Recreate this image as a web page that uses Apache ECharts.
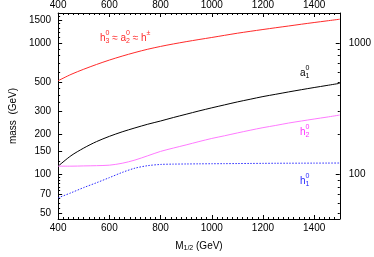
<!DOCTYPE html>
<html><head><meta charset="utf-8">
<script src="https://cdn.jsdelivr.net/npm/echarts@6/dist/echarts.min.js"></script>
<style>html,body{margin:0;padding:0;background:#fff}#c{width:374px;height:257px}</style>
</head><body><div id="c"></div>
<script>
// ---- data ----
var mHalf  = [400,450,500,550,600,650,700,750,800,850,900,950,1000,1050,1100,1150,1200,1250,1300,1350,1400,1450,1500];
var massH3 = [515,575,630,685,740,793,845,895,940,982,1022,1061,1100,1142,1185,1225,1265,1305,1345,1388,1430,1472,1515];
var massA1 = [115,138,158,177,194,210,225,240,254,270,286,303,320,337,355,372,390,406,423,440,457,474,492];
var massH2 = [115,115,115.5,116,117,121,128,138,149,158,167,177,187,196,206,216,226,235,245,254,263,272,282];
var massH1 = [66,72,79,86,94,103,111,116,118.5,119.2,119.5,119.8,120,120.2,120.4,120.6,120.8,121,121.1,121.2,121.3,121.4,121.5];
var xTicks = [400,600,800,1000,1200,1400];
var yLeftLabels = [50,70,100,150,200,300,500,1000,1500];
var yLeftMinor = [55,60,65,75,80,85,90,95,125,175,250,350,400,450,600,700,800,900,1100,1200,1300,1400,1600];
var yRightLabels = [100,1000];
var yRightMinor = [50,60,70,80,90,200,300,400,500,600,700,800,900];

var FONT = 'Liberation Sans, Arial, sans-serif';
function pairs(ys){ return mHalf.map(function(x,i){ return [x, ys[i]]; }); }
function plain(v){ return String(Math.round(v)); }

var chart = echarts.init(document.getElementById('c'), null, {renderer:'canvas'});
var ctx = document.createElement('canvas').getContext('2d');
function tw(t, size){ ctx.font = size + 'px ' + FONT; return ctx.measureText(t).width; }

function mathLabel(x, yc, segs, color){
  var els = []; var cx = x;
  segs.forEach(function(s){
    if (s.t) {
      els.push({type:'text', style:{text:s.t, x:cx, y:yc, fill:color, font:'10px '+FONT, verticalAlign:'middle', align:'left'}});
      cx += tw(s.t, 10);
    }
    var w = 0;
    if (s.sup) { els.push({type:'text', style:{text:s.sup, x:cx, y:yc-4.5, fill:color, font:'7px '+FONT, verticalAlign:'middle', align:'left'}}); w = Math.max(w, tw(s.sup,7)); }
    if (s.sub) { els.push({type:'text', style:{text:s.sub, x:cx, y:yc+3.5, fill:color, font:'7px '+FONT, verticalAlign:'middle', align:'left'}}); w = Math.max(w, tw(s.sub,7)); }
    cx += w;
  });
  return els;
}

var graphics = [];
graphics = graphics.concat(mathLabel(100, 38, [{t:'h', sup:'0', sub:'3'},{t:' \u2248 a', sup:'0', sub:'2'},{t:' \u2248 h', sup:'\u00b1'}], '#ff2a2a'));
graphics = graphics.concat(mathLabel(300, 73, [{t:'a', sup:'0', sub:'1'}], '#000000'));
graphics = graphics.concat(mathLabel(300, 132, [{t:'h', sup:'0', sub:'2'}], '#ff33ff'));
graphics = graphics.concat(mathLabel(300, 181, [{t:'h', sup:'0', sub:'1'}], '#2a2aff'));

var axisLineStyle = {show:true, lineStyle:{color:'#000', width:1}};
function xAxisDef(pos, showName){
  return {
    type:'value', position:pos, min:400, max:1500,
    axisLine: axisLineStyle,
    axisTick:{show:true, inside:true, length:4, customValues:xTicks, lineStyle:{color:'#000'}},
    minorTick:{show:true, splitNumber:10, length:2, lineStyle:{color:'#000'}},
    axisLabel:{show:true, customValues:xTicks, formatter:plain, color:'#000', fontSize:10, fontFamily:FONT, margin: pos==='top'?3:4},
    splitLine:{show:false},
    name: showName ? '{a|M}{s|1/2}{a| (GeV)}' : '',
    nameLocation:'middle', nameGap:21,
    nameTextStyle:{color:'#000', fontFamily:FONT, rich:{
      a:{fontSize:10, fontFamily:FONT, color:'#000', lineHeight:12, verticalAlign:'middle'},
      s:{fontSize:7, fontFamily:FONT, color:'#000', lineHeight:12, verticalAlign:'bottom', padding:[6,0,0,0]}
    }}
  };
}
function yAxisDef(pos, labels, ticks, tickLen, showLine, name){
  return {
    type:'log', logBase:10, position:pos, min:45.5, max:1690,
    axisLine: showLine ? axisLineStyle : {show:false},
    axisTick:{show:true, inside:true, length:tickLen, customValues:ticks, lineStyle:{color:'#000'}},
    axisLabel: labels ? {show:true, customValues:labels, formatter:plain, color:'#000', fontSize:10, fontFamily:FONT, margin: pos==='left'?7:9} : {show:false},
    splitLine:{show:false},
    name: name || '', nameLocation:'middle', nameGap:35,
    nameTextStyle:{color:'#000', fontSize:10, fontFamily:FONT}
  };
}

chart.setOption({
  animation:false,
  backgroundColor:'#fff',
  grid:{left:45, right:31, top:13, bottom:36, containLabel:false},
  xAxis:[xAxisDef('bottom', true), xAxisDef('top', false)],
  yAxis:[
    yAxisDef('left', yLeftLabels, yLeftLabels, 4, true, 'mass  (GeV)'),
    yAxisDef('left', null, yLeftMinor, 2, false),
    yAxisDef('right', yRightLabels, yRightLabels, 4, true),
    yAxisDef('right', null, yRightMinor, 2, false)
  ],
  series:[
    {type:'line', name:'h3', data:pairs(massH3), smooth:0.3, showSymbol:false, lineStyle:{color:'#ff2a2a', width:1}, xAxisIndex:0, yAxisIndex:0},
    {type:'line', name:'a1', data:pairs(massA1), smooth:0.3, showSymbol:false, lineStyle:{color:'#000', width:1}, xAxisIndex:0, yAxisIndex:0},
    {type:'line', name:'h2', data:pairs(massH2), smooth:0.3, showSymbol:false, lineStyle:{color:'#ff7aff', width:1}, xAxisIndex:0, yAxisIndex:0},
    {type:'line', name:'h1', data:pairs(massH1), smooth:0.3, showSymbol:false, lineStyle:{color:'#2a2aff', width:1, type:[1.5,1.5]}, xAxisIndex:0, yAxisIndex:0}
  ],
  graphic: graphics
});
</script>
</body></html>
